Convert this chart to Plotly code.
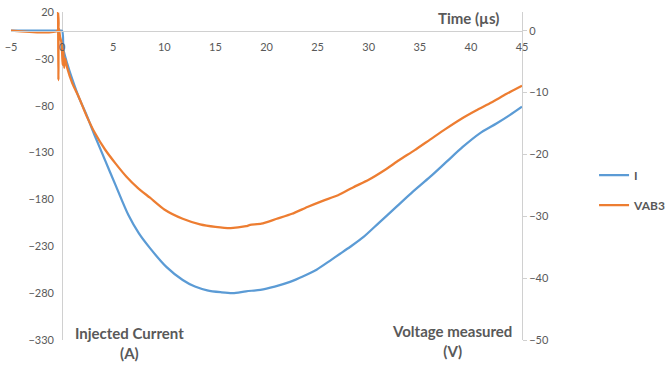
import plotly.graph_objects as go

# Injected current I (A), left axis
t_i = [-5, -0.3, 0.0, 0.13, 0.5, 1.0, 1.6, 2.4, 3.2, 4.2, 5.2, 6.5, 7.5, 8.6, 10.2,
       11.8, 13.0, 14.2, 15.5, 16.7, 18.0, 19.4, 20.8, 22.3, 23.6, 24.9, 26.2, 27.2,
       28.2, 29.5, 31.0, 32.7, 34.3, 36.0, 37.6, 39.2, 40.8, 42.5, 43.8, 45.0]
i_vals = [0, 0, 0, -20, -35, -52, -70, -90, -112, -138, -164, -197, -216, -232, -252,
          -266, -273, -277, -279, -280, -278, -276.5, -273, -268, -262, -255, -245.5, -238,
          -230.5, -220, -205, -188, -172, -156, -140, -124, -110, -99, -90, -81]

# Measured voltage VAB3 (V), right axis
t_v = [-5, -0.45, -0.40, -0.36, -0.32, -0.2, -0.05, 0.05, 0.12, 0.2, 0.3, 0.5, 1.0,
       1.6, 2.4, 3.2, 4.2, 5.2, 6.3, 7.4, 8.6, 10.0, 11.8, 13.5, 15.0, 16.5, 18.0, 18.4,
       19.5, 21.0, 22.5, 24.0, 25.5, 27.0, 28.5, 30.0, 31.5, 33.0, 34.5, 36.0, 37.5,
       39.0, 40.5, 42.0, 43.5, 45.0]
v_vals = [0, 0, 3.0, -8.0, 0.5, -1.0, -2.0, -5.5, -3.0, -6.0, -4.5, -6.0, -8.5,
          -10.6, -13.8, -16.5, -19.2, -21.4, -23.6, -25.4, -27.0, -28.9, -30.4, -31.3, -31.7,
          -31.9, -31.6, -31.4, -31.2, -30.4, -29.6, -28.5, -27.5, -26.6, -25.3, -24.1, -22.6,
          -20.9, -19.3, -17.6, -15.9, -14.3, -12.9, -11.6, -10.2, -8.9]

left_ticks = [20, -30, -80, -130, -180, -230, -280, -330]
right_ticks = [0, -10, -20, -30, -40, -50]
x_ticks = [-5, 0, 5, 10, 15, 20, 25, 30, 35, 40, 45]

BLUE = "#5B9BD5"
ORANGE = "#ED7D31"
GREY = "#595959"
AXIS = "#D0D0D0"
FONT = "Lato"

y_left = [-330, 20]
# right axis scaled so its zero lines up with the left axis zero
y_right = [-50, 50 * 20 / 330]

fig = go.Figure()
fig.add_trace(go.Scatter(x=t_i, y=i_vals, name="I", mode="lines",
                         line=dict(color=BLUE, width=2.25, shape="spline", smoothing=0.8),
                         yaxis="y", legendgroup="a"))
fig.add_trace(go.Scatter(x=t_v, y=v_vals, name="VAB3", mode="lines",
                         line=dict(color=ORANGE, width=2.25, shape="spline", smoothing=0.6),
                         yaxis="y2", legendgroup="b"))

x0_pos = (0 - y_left[0]) / (y_left[1] - y_left[0])

fig.update_layout(
    width=665, height=365,
    margin=dict(l=11, r=143, t=12, b=25, autoexpand=False),
    paper_bgcolor="white", plot_bgcolor="white",
    font=dict(family=FONT, color=GREY, size=11),
    showlegend=True,
    legend=dict(x=1.141, y=0.457, xanchor="left", yanchor="middle",
                font=dict(size=12, color=GREY, family=FONT, weight="bold"),
                tracegroupgap=11, itemwidth=30, bgcolor="rgba(0,0,0,0)"),
    xaxis=dict(range=[-5, 45], tickvals=x_ticks, showgrid=False,
               anchor="free", position=x0_pos, side="bottom", automargin=False,
               showline=True, linecolor=AXIS, linewidth=1,
               zeroline=True, zerolinecolor=AXIS, zerolinewidth=1,
               ticks="outside", ticklen=6, tickcolor="rgba(0,0,0,0)",
               tickfont=dict(size=11, color=GREY)),
    yaxis=dict(range=y_left, tickvals=left_ticks, showgrid=False,
               anchor="free", position=0.084, side="left", automargin=False,
               showline=False, zeroline=False, ticks="",
               tickfont=dict(size=11, color=GREY)),
    yaxis2=dict(range=y_right, tickvals=right_ticks, showgrid=False,
                overlaying="y", side="right", anchor="x", automargin=False,
                showline=True, linecolor=AXIS, linewidth=1,
                ticks="outside", ticklen=4, tickcolor=AXIS,
                zeroline=False, tickfont=dict(size=11, color=GREY)),
)

title_font = dict(family=FONT, size=15, color=GREY, weight="bold")
fig.add_annotation(text="Time (µs)", xref="paper", yref="paper",
                   x=(468 - 11) / 511, y=(340 - 18) / 328, showarrow=False,
                   xanchor="center", yanchor="middle", font=title_font)
fig.add_annotation(text="Injected Current<br>(A)", xref="paper", yref="paper",
                   x=(129 - 11) / 511, y=(340 - 343) / 328, showarrow=False,
                   xanchor="center", yanchor="middle",
                   font=title_font, align="center")
fig.add_annotation(text="Voltage measured<br>(V)", xref="paper", yref="paper",
                   x=(452 - 11) / 511, y=(340 - 341) / 328, showarrow=False,
                   xanchor="center", yanchor="middle",
                   font=title_font, align="center")

fig.write_html("out.html")
